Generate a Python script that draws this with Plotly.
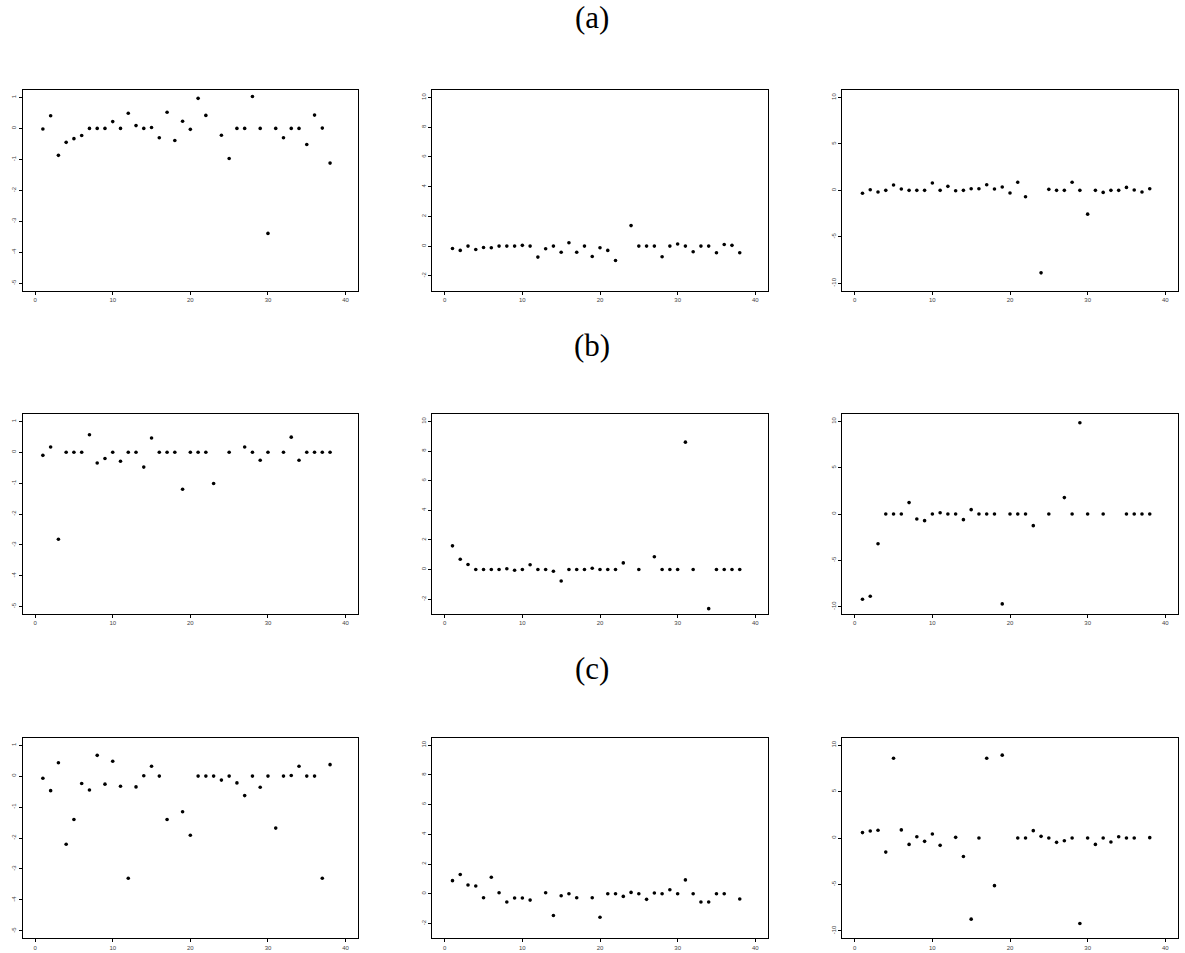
import plotly.graph_objects as go

x_index = list(range(1, 39))
N = None

a1 = [-0.02, 0.41, -0.87, -0.45, -0.33, -0.23, 0, 0, 0, 0.22, 0, 0.49, 0.09, 0, 0.03, -0.30, 0.52, -0.39, 0.23, -0.03,
      0.97, 0.42, N, -0.22, -0.97, 0, 0, 1.03, 0, -3.39, 0, -0.30, 0, 0, -0.52, 0.43, 0.01, -1.12]
a2 = [-0.16, -0.29, 0, -0.23, -0.09, -0.11, 0, 0, 0, 0.05, 0, -0.74, -0.18, 0, -0.41, 0.23, -0.41, 0, -0.70, -0.11,
      -0.29, -0.97, N, 1.38, 0, 0, 0, -0.72, 0, 0.14, 0, -0.38, 0, 0, -0.45, 0.11, 0.05, -0.45]
a3 = [-0.32, 0.07, -0.18, 0, 0.58, 0.14, 0, 0, 0, 0.79, 0, 0.43, -0.04, 0, 0.18, 0.18, 0.61, 0.14, 0.36, -0.29,
      0.87, -0.69, N, -8.88, 0.11, 0, 0, 0.87, 0, -2.56, 0, -0.22, 0, 0, 0.32, 0.04, -0.18, 0.18]
b1 = [-0.10, 0.17, -2.82, 0, 0, 0, 0.57, -0.35, -0.20, 0, -0.29, 0, 0, -0.48, 0.46, 0, 0, 0, -1.20, 0,
      0, 0, -1.01, N, 0, N, 0.17, 0, -0.26, 0, N, 0, 0.49, -0.26, 0, 0, 0, 0]
b2 = [1.60, 0.70, 0.34, 0, 0, 0, 0, 0.05, -0.05, 0, 0.32, 0, 0, -0.11, -0.77, 0, 0, 0, 0.09, 0,
      0, 0, 0.45, N, 0, N, 0.86, 0, 0, 0, 8.60, 0, N, -2.64, 0, 0, 0, 0]
b3 = [-9.21, -8.88, -3.21, 0, 0, 0, 1.23, -0.54, -0.72, 0, 0.14, 0, 0, -0.61, 0.47, 0, 0, 0, -9.71, 0,
      0, 0, -1.26, N, 0, N, 1.77, 0, 9.86, 0, N, 0, N, N, 0, 0, 0, 0]
c1 = [-0.07, -0.47, 0.43, -2.20, -1.40, -0.24, -0.45, 0.67, -0.26, 0.48, -0.33, -3.30, -0.35, 0.01, 0.32, 0, -1.40, N, -1.15, -1.91,
      0, 0, 0, -0.13, 0, -0.22, -0.63, 0, -0.36, 0, -1.68, 0, 0.02, 0.32, 0, 0, -3.30, 0.37]
c2 = [0.88, 1.29, 0.59, 0.52, -0.27, 1.11, 0.07, -0.56, -0.29, -0.29, -0.43, N, 0.07, -1.47, -0.14, 0, -0.27, N, -0.27, -1.58,
      0, 0, -0.18, 0.09, 0, -0.38, 0.05, 0, 0.27, 0, 0.93, 0, -0.56, -0.56, 0, 0, N, -0.36]
c3 = [0.58, 0.76, 0.83, -1.52, 8.59, 0.87, -0.69, 0.14, -0.36, 0.43, -0.79, N, 0.07, -1.99, -8.74, 0, 8.59, -5.13, 8.92, N,
      0, 0, 0.79, 0.18, 0, -0.47, -0.29, 0, -9.21, 0, -0.69, 0, -0.43, 0.14, 0, 0, N, 0.04]

panel_titles = ["(a)", "(b)", "(c)"]
x_ticks = [0, 10, 20, 30, 40]
y_ticks_col = [[-5, -4, -3, -2, -1, 0, 1], [-2, 0, 2, 4, 6, 8, 10], [-10, -5, 0, 5, 10]]
y_ranges_col = [[-5.24, 1.24], [-3.0, 10.5], [-10.8, 10.8]]

rows = [[a1, a2, a3], [b1, b2, b3], [c1, c2, c3]]

W, H = 1185, 953
col_px = [(22.7, 358.0), (432.3, 767.7), (842.3, 1177.7)]
row_px = [(90.0, 290.7), (414.0, 614.0), (737.7, 938.3)]
title_y_px = [18, 345, 668]

fig = go.Figure()
k = 0
for r in range(3):
    for c in range(3):
        k += 1
        xa = "x" if k == 1 else f"x{k}"
        ya = "y" if k == 1 else f"y{k}"
        fig.add_trace(go.Scatter(
            x=x_index, y=rows[r][c], mode="markers",
            marker=dict(color="black", size=3.6),
            xaxis=xa, yaxis=ya, showlegend=False, hoverinfo="skip"))
        common = dict(showline=True, mirror=True, linecolor="black", linewidth=1,
                      showgrid=False, zeroline=False, ticks="outside", ticklen=3,
                      tickwidth=1, tickcolor="black",
                      tickfont=dict(family="Liberation Sans", size=6, color="#444444"))
        fig.layout[f"xaxis{'' if k == 1 else k}"] = dict(
            domain=[col_px[c][0] / W, col_px[c][1] / W], anchor=ya,
            range=[-1.6, 41.6], tickmode="array", tickvals=x_ticks,
            ticktext=[str(v) for v in x_ticks], **common)
        fig.layout[f"yaxis{'' if k == 1 else k}"] = dict(
            domain=[1 - row_px[r][1] / H, 1 - row_px[r][0] / H], anchor=xa,
            range=y_ranges_col[c], tickmode="array", tickvals=y_ticks_col[c],
            ticktext=[str(v) for v in y_ticks_col[c]], tickangle=-90, **common)

for t, ypx in zip(panel_titles, title_y_px):
    fig.add_annotation(text=t, x=592 / W, y=1 - ypx / H, xref="paper", yref="paper",
                       showarrow=False, xanchor="center", yanchor="middle",
                       font=dict(family="Liberation Serif", size=31, color="black"))

fig.update_layout(width=W, height=H, margin=dict(l=0, r=0, t=0, b=0),
                  paper_bgcolor="white", plot_bgcolor="white")
fig.write_html("out.html", config={"displayModeBar": False},
               post_script="document.body.style.margin='0';document.body.style.overflow='hidden';")
